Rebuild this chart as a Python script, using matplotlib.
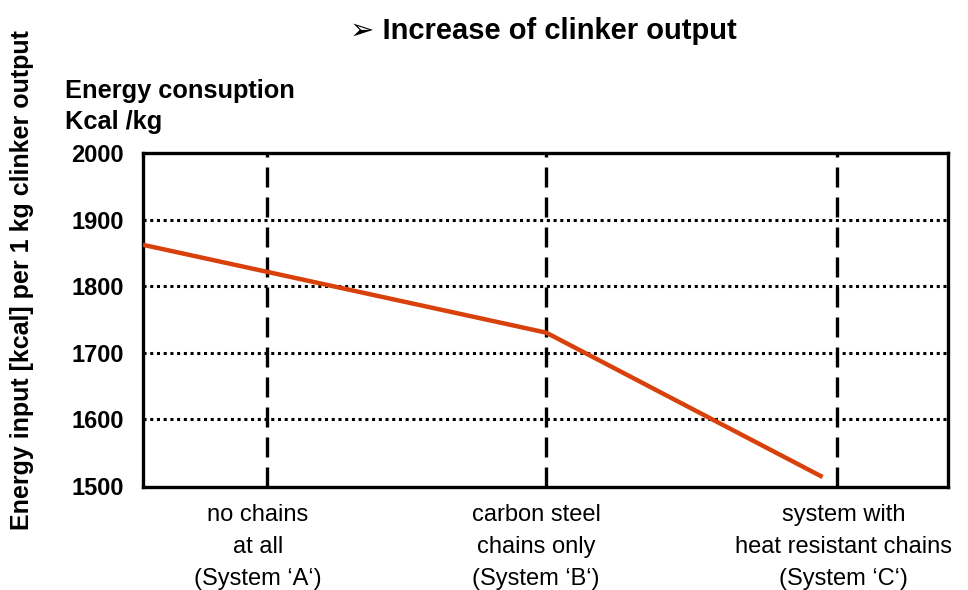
import matplotlib.pyplot as plt
from matplotlib.transforms import ScaledTranslation

# systems on the x axis
categories = ["no chains\nat all\n(System \u2018A\u2018)",
              "carbon steel\nchains only\n(System \u2018B\u2018)",
              "system with\nheat resistant chains\n(System \u2018C\u2018)"]
cat_x = [1, 1.98, 3]

# energy line
line_x = [0.565, 1.98, 2.95]
line_y = [1862, 1730, 1513]

y_ticks = [1500, 1600, 1700, 1800, 1900, 2000]
grid_y = [1600, 1700, 1800, 1900]

plt.rcParams['font.family'] = ['Liberation Sans', 'DejaVu Sans']

fig = plt.figure(figsize=(9.68, 5.90), dpi=100)
ax = fig.add_axes([0.1477, 0.1746, 0.8316, 0.5661])

for y in grid_y:
    ax.axhline(y, color='black', lw=2.2, ls=(0, (1, 1.2)), zorder=1)
for x in cat_x:
    ax.axvline(x, color='black', lw=2.4, ls=(0, (6, 3)), zorder=1)

ax.plot(line_x, line_y, color='#D8400C', lw=3.2, solid_capstyle='butt', zorder=3)

ax.set_xlim(0.565, 3.39)
ax.set_ylim(1498, 1999)
ax.set_yticks(y_ticks)
ax.set_yticklabels([str(v) for v in y_ticks], fontsize=17, fontweight='bold')
ax.set_xticks(cat_x)
ax.set_xticklabels(categories, fontsize=17, linespacing=1.6)
ax.tick_params(axis='both', length=0)
ax.tick_params(axis='x', pad=12)
ax.tick_params(axis='y', pad=14)
# labels are not exactly centred on the dashed lines in the original
for lab, dx in zip(ax.get_xticklabels(), [-9, -10, 7]):
    lab.set_transform(lab.get_transform() + ScaledTranslation(dx / 100, 0, fig.dpi_scale_trans))
for sp in ax.spines.values():
    sp.set_linewidth(2.4)

fig.text(0.561, 0.948, "\u27a2 Increase of clinker output", ha='center', va='center',
         fontsize=21, fontweight='bold')
fig.text(0.067, 0.82, "Energy consuption\nKcal /kg", ha='left', va='center',
         fontsize=18.3, fontweight='bold', linespacing=1.35)
fig.text(0.023, 0.525, "Energy input [kcal] per 1 kg clinker output", rotation=90,
         ha='center', va='center', fontsize=18, fontweight='bold')

fig.savefig("out.png", dpi=100)
